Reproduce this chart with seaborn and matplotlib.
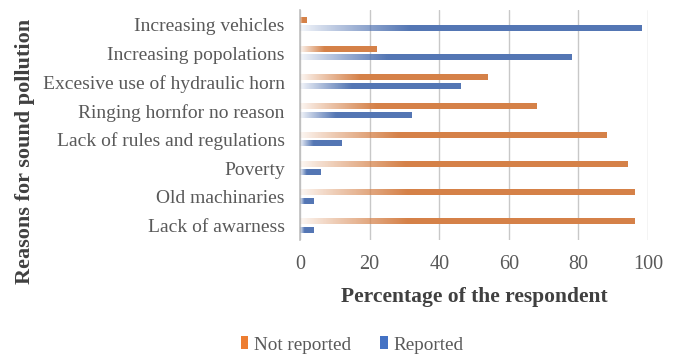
import numpy as np
import pandas as pd
import matplotlib
matplotlib.use("Agg")
import matplotlib.pyplot as plt
from matplotlib.patches import Patch
from matplotlib.colors import to_rgb
import seaborn as sns

reasons = [
    "Increasing vehicles",
    "Increasing popolations",
    "Excesive use of hydraulic horn",
    "Ringing hornfor no reason",
    "Lack of rules and regulations",
    "Poverty",
    "Old machinaries",
    "Lack of awarness",
]
not_reported = [2, 22, 54, 68, 88, 94, 96, 96]
reported = [98, 78, 46, 32, 12, 6, 4, 4]
series_names = ["Not reported", "Reported"]
series_colors = ["#ED7D31", "#4472C4"]
x_ticks = [0, 20, 40, 60, 80, 100]

df = pd.DataFrame({
    "reason": reasons * 2,
    "status": [series_names[0]] * len(reasons) + [series_names[1]] * len(reasons),
    "pct": not_reported + reported,
})

sns.set_theme(style="white")
plt.rcParams["font.family"] = ["Liberation Serif", "DejaVu Serif"]
text_gray = "#595959"

fig = plt.figure(figsize=(6.76, 3.59), dpi=100)
ax = fig.add_axes([300 / 676, 1 - 240 / 359, 348 / 676, 230 / 359])

sns.barplot(data=df, y="reason", x="pct", hue="status", order=reasons,
            hue_order=series_names, palette=series_colors, orient="h",
            width=0.58, gap=0.34, legend=False, ax=ax)

# Replace each flat bar with a left-to-right fade from white into the series colour
for bar in list(ax.patches):
    x0, y0 = bar.get_x(), bar.get_y()
    w, h = bar.get_width(), bar.get_height()
    if w <= 0:
        continue
    rgb = np.array(to_rgb(bar.get_facecolor()))
    t = np.linspace(0, 1, 256)
    alpha = np.clip(t / 0.32, 0, 1) ** 0.9
    alpha = 0.06 + 0.94 * alpha
    img = np.ones((1, 256, 4))
    img[0, :, :3] = rgb
    img[0, :, 3] = alpha
    ax.imshow(img, extent=[x0, x0 + w, y0 + h, y0], aspect="auto",
              interpolation="bilinear", zorder=3)
    bar.set_visible(False)

ax.set_xlim(0, 100)
ax.set_ylim(len(reasons) - 0.5, -0.5)
ax.set_xticks(x_ticks)
ax.set_xticklabels([str(v) for v in x_ticks])
ax.xaxis.grid(True, color="#C8C8C8", linewidth=1.0, zorder=0)
ax.set_axisbelow(True)
ax.tick_params(axis="both", length=0, labelsize=14.5, colors=text_gray)
ax.tick_params(axis="x", pad=11)
ax.tick_params(axis="y", pad=11)
ax.tick_params(axis="y", labelsize=14)
for side in ["top", "right", "bottom"]:
    ax.spines[side].set_visible(False)
ax.spines["left"].set_color("#BFBFBF")
ax.spines["left"].set_linewidth(1.2)
ax.set_xlabel("")
ax.set_ylabel("")

fig.text(474 / 676, 1 - 297 / 359, "Percentage of the respondent",
         ha="center", va="center", fontsize=15.5, fontweight="bold", color="#404040")
fig.text(25 / 676, 1 - 151 / 359, "Reasons for sound pollution",
         ha="center", va="center", rotation=90, fontsize=16,
         fontweight="bold", color="#404040")

handles = [Patch(facecolor=c, edgecolor="none") for c in series_colors]
fig.legend(handles, series_names, loc="center", bbox_to_anchor=(352 / 676, 1 - 345 / 359),
           ncol=2, frameon=False, fontsize=13.8, labelcolor=text_gray,
           handlelength=0.4, handleheight=0.65, handletextpad=0.3, columnspacing=1.5)

fig.savefig("out.png", dpi=100)
